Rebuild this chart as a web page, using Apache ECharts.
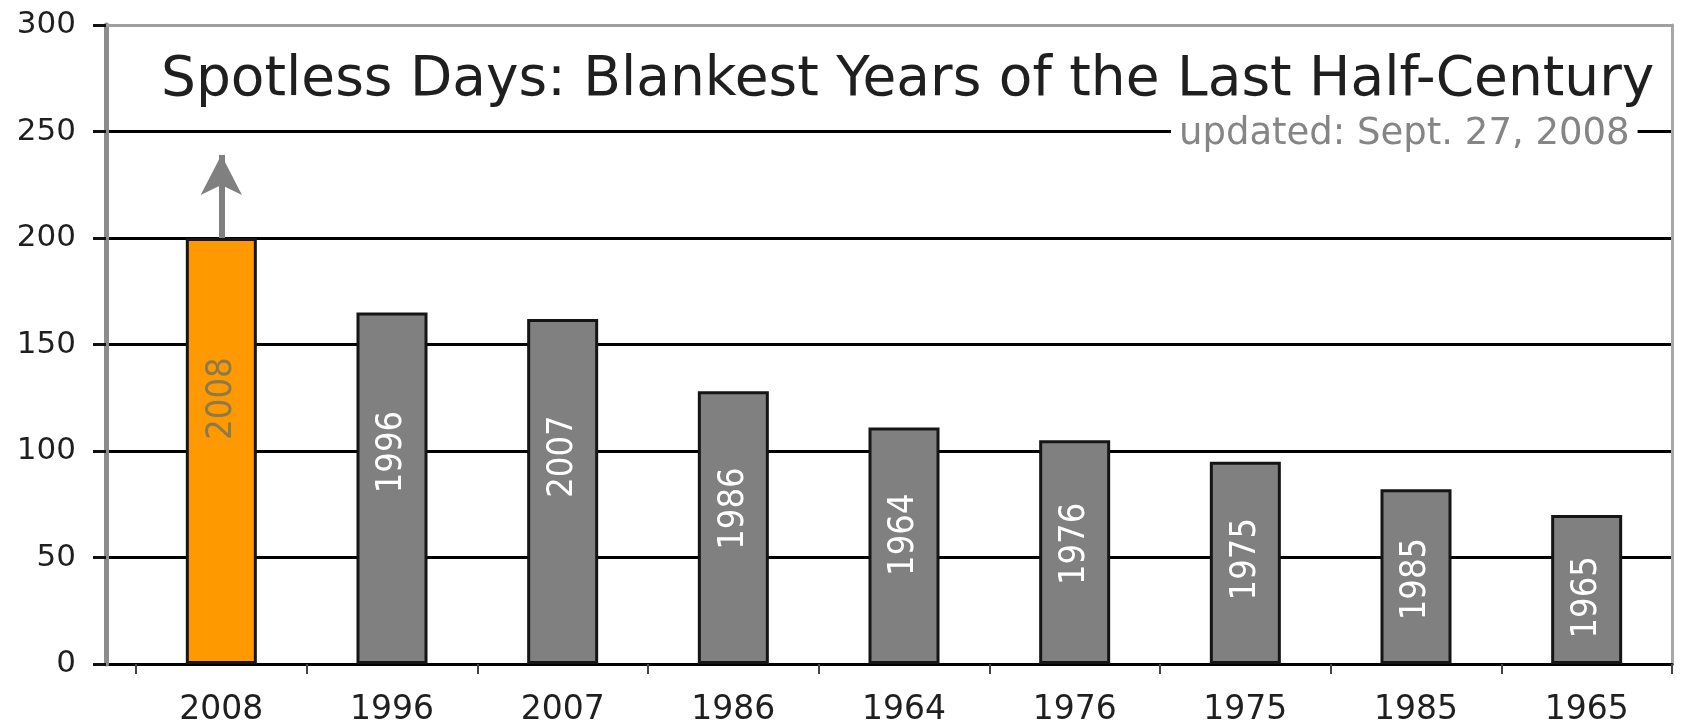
<!DOCTYPE html>
<html>
<head>
<meta charset="utf-8">
<script src="https://cdn.jsdelivr.net/npm/echarts@6/dist/echarts.min.js"></script>
<style>
  html, body { margin: 0; padding: 0; background: #fff; }
  #chart { width: 1681px; height: 720px; }
</style>
</head>
<body>
<div id="chart"></div>
<script>
// ---- data ----
const years = ['2008', '1996', '2007', '1986', '1964', '1976', '1975', '1985', '1965'];
const spotlessDays = [200, 165, 162, 128, 111, 105, 95, 82, 70];
const yMin = 0, yMax = 300, yStep = 50;
const titleText = 'Spotless Days: Blankest Years of the Last Half-Century';
const updatedText = 'updated: Sept. 27, 2008';
const arrowFrom = 200, arrowTo = 239; // "still rising" arrow on the current year

// ---- styles ----
const FONT = "'DejaVu Sans', sans-serif";
const NARROW = "'DejaVu Sans Condensed', 'DejaVu Sans', sans-serif";
const GRAY = '#808080';
const ORANGE = '#FF9900';

// in-bar year labels sit a bit above the middle of tall bars, near the middle of short ones
function labelPos(v) {
  const f = 0.282 + 19 / v;
  return ['50%', (f * 100).toFixed(1) + '%'];
}

const barData = spotlessDays.map((v, i) => {
  const item = { value: v, label: { position: labelPos(v) } };
  if (i === 0) {
    item.itemStyle = { color: ORANGE };
    item.label.color = '#8a7a50';
  }
  return item;
});

const chart = echarts.init(document.getElementById('chart'), null, { renderer: 'canvas' });

chart.setOption({
  animation: false,
  backgroundColor: '#ffffff',
  title: [
    {
      text: titleText,
      left: 161, top: 53, padding: 0,
      textStyle: { fontFamily: FONT, fontSize: 55, fontWeight: 'normal', color: '#1f1f1f' }
    },
    {
      text: updatedText,
      left: 1171, top: 116, padding: [0, 8],
      backgroundColor: '#ffffff',
      textStyle: { fontFamily: FONT, fontSize: 37, fontWeight: 'normal', color: '#858585' }
    }
  ],
  grid: [
    { left: 106, right: 9, top: 25, bottom: 56, outerBoundsMode: 'none', containLabel: false },
    { left: 136, right: 9, top: 25, bottom: 56, outerBoundsMode: 'none', containLabel: false }
  ],
  xAxis: [
    {
      gridIndex: 0, type: 'value', min: 0, max: 1, position: 'top',
      axisLine: { show: true, onZero: false, lineStyle: { color: '#a0a0a0', width: 3 } },
      axisTick: { show: false }, axisLabel: { show: false }, splitLine: { show: false }
    },
    {
      gridIndex: 1, type: 'category', data: years,
      axisLine: { show: true, onZero: false, lineStyle: { color: '#000', width: 3 } },
      axisTick: { show: true, length: 10, lineStyle: { color: '#444', width: 2 } },
      axisLabel: { fontFamily: FONT, fontSize: 33, color: '#1f1f1f', margin: 30 },
      splitLine: { show: false }
    }
  ],
  yAxis: [
    {
      gridIndex: 0, type: 'value', min: yMin, max: yMax, interval: yStep,
      axisLine: { show: true, onZero: false, lineStyle: { color: '#8c8c8c', width: 5 } },
      axisTick: { show: true, length: 13, lineStyle: { color: '#111', width: 3 } },
      axisLabel: { fontFamily: FONT, fontSize: 31, color: '#1f1f1f', margin: 30 },
      splitLine: { show: true, showMaxLine: false, lineStyle: { color: '#000', width: 3 } }
    },
    {
      gridIndex: 0, type: 'value', min: yMin, max: yMax, interval: yStep, position: 'right',
      axisLine: { show: true, onZero: false, lineStyle: { color: '#a8a8a8', width: 3 } },
      axisTick: { show: false }, axisLabel: { show: false }, splitLine: { show: false }
    },
    {
      gridIndex: 1, type: 'value', min: yMin, max: yMax, interval: yStep, show: false
    }
  ],
  series: [
    {
      type: 'bar',
      xAxisIndex: 1, yAxisIndex: 2,
      data: barData,
      barWidth: 71,
      itemStyle: { color: GRAY, borderColor: '#151515', borderWidth: 3 },
      label: {
        show: true,
        formatter: (p) => p.name,
        align: 'center', verticalAlign: 'middle',
        rotate: 90,
        fontFamily: NARROW, fontSize: 36, fontWeight: 'normal',
        color: '#ffffff'
      },
      markLine: {
        silent: true,
        symbol: ['none', 'arrow'],
        symbolSize: [31, 40],
        label: { show: false },
        lineStyle: { color: GRAY, width: 6, type: 'solid' },
        data: [[{ coord: [years[0], arrowFrom] }, { coord: [years[0], arrowTo] }]]
      }
    }
  ]
});
</script>
</body>
</html>
